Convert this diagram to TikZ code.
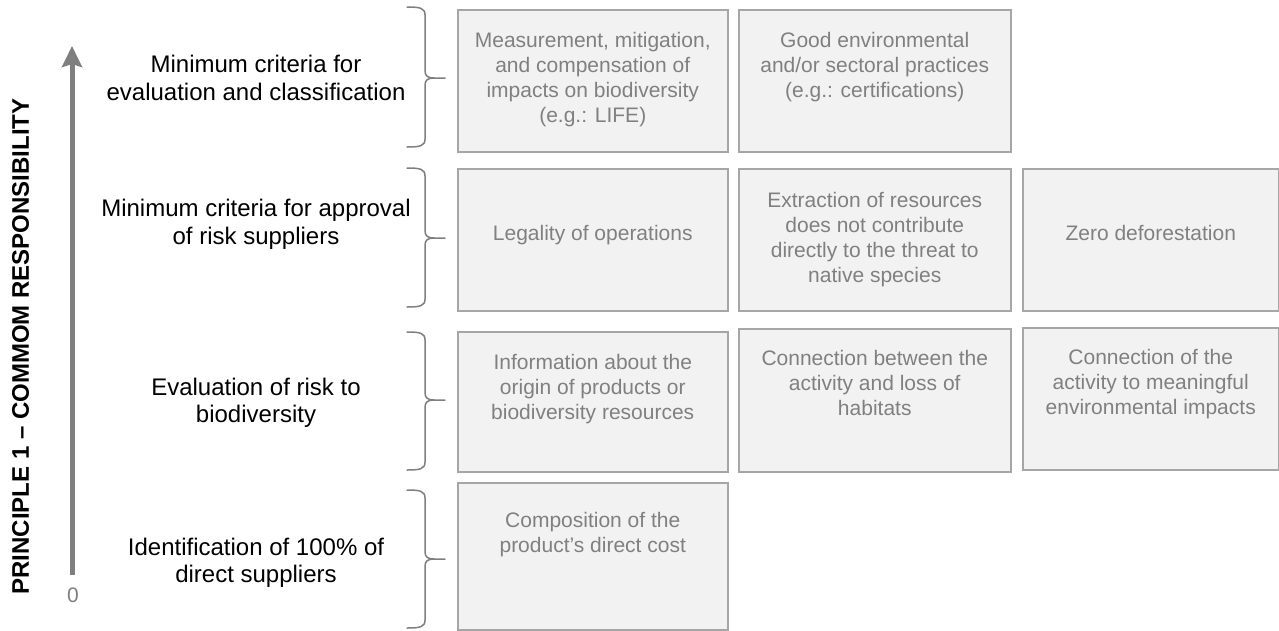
\documentclass[tikz,border=0pt]{standalone}
\usepackage{fontspec}
\setmainfont{Liberation Sans}
\usetikzlibrary{arrows.meta,calc}
\definecolor{boxfill}{HTML}{F2F2F2}
\definecolor{boxline}{HTML}{A6A6A6}
\definecolor{boxtxt}{HTML}{808080}
\definecolor{axisgray}{HTML}{7F7F7F}
\newcommand\mybrace[3]{%
  \draw[bracestyle] (407,#1) .. controls (420,#1) and (425,{#1+1}) .. (425,{#1+8})
    -- (425,{#2-7}) .. controls (425,{#2-2}) and (428,#2) .. (434,#2) -- (445,#2);
  \draw[bracestyle] (434,#2) .. controls (428,#2) and (425,{#2+2}) .. (425,{#2+7})
    -- (425,{#3-8}) .. controls (425,{#3-1}) and (420,#3) .. (407,#3);
}
\begin{document}
\begin{tikzpicture}[x=1pt,y=-1pt,
  cbox/.style={draw=boxline, fill=boxfill, line width=1.5pt, anchor=north west, inner sep=0pt},
  ctext/.style={anchor=north, inner sep=0pt, align=center, text=boxtxt, font=\fontsize{21}{25}\selectfont},
  ltext/.style={anchor=north, inner sep=0pt, align=center, text=black, font=\fontsize{24}{27.5}\selectfont},
  bracestyle/.style={draw=axisgray, line width=1.5pt, line cap=round},
  axisarrow/.style={draw=axisgray, line width=5pt, -{Stealth[length=21pt,width=20pt,inset=3pt]}}
]
\useasboundingbox (0,0) rectangle (1279,630);

% title
\node[rotate=90, font=\fontsize{24}{28}\selectfont\bfseries, inner sep=0pt] (title) at (20.5,346.5) {PRINCIPLE 1 – COMMOM RESPONSIBILITY};

% axis
\coordinate (a0) at (72,575);
\coordinate (a1) at (72,46);
\draw[axisarrow] (a0) -- (a1);
\node[text=axisgray, font=\fontsize{21}{25}\selectfont, inner sep=0pt] (zero) at (73,595) {0};

% left labels
\node[ltext] (l1) at (256,53.4) {\strut Minimum criteria for\\evaluation and classification};
\node[ltext] (l2) at (256,197.4) {\strut Minimum criteria for approval\\of risk suppliers};
\node[ltext] (l3) at (256,375.7) {\strut Evaluation of risk to\\biodiversity};
\node[ltext] (l4) at (256,535.7) {\strut Identification of 100\% of\\direct suppliers};

% braces
\mybrace{7}{78}{147}
\mybrace{168}{238}{307}
\mybrace{332}{400}{470}
\mybrace{490}{559}{628}

% boxes
\node[cbox, minimum width=270pt, minimum height=142pt] (b11) at (457,9) {};
\node[cbox, minimum width=272pt, minimum height=142pt] (b12) at (738,9) {};
\node[cbox, minimum width=270pt, minimum height=142pt] (b21) at (457,168) {};
\node[cbox, minimum width=272pt, minimum height=142pt] (b22) at (738,168) {};
\node[cbox, minimum width=256pt, minimum height=142pt] (b23) at (1022,168) {};
\node[cbox, minimum width=270pt, minimum height=140pt] (b31) at (457,331) {};
\node[cbox, minimum width=272pt, minimum height=143pt] (b32) at (738,328) {};
\node[cbox, minimum width=256pt, minimum height=142pt] (b33) at (1022,327) {};
\node[cbox, minimum width=270pt, minimum height=147pt] (b41) at (457,482) {};

% box texts
\node[ctext] (t11) at ($(b11.north)+(0,20.5)$) {\strut Measurement, mitigation,\\and compensation of\\impacts on biodiversity\\(e.g.: LIFE)};
\node[ctext] (t12) at ($(b12.north)+(0,20.5)$) {\strut Good environmental\\and/or sectoral practices\\(e.g.: certifications)};
\node[ctext] (t21) at ($(b21.north)+(0,54.5)$) {\strut Legality of operations};
\node[ctext] (t22) at ($(b22.north)+(0,21.5)$) {\strut Extraction of resources\\does not contribute\\directly to the threat to\\native species};
\node[ctext] (t23) at ($(b23.north)+(0,54.5)$) {\strut Zero deforestation};
\node[ctext] (t31) at ($(b31.north)+(0,20.5)$) {\strut Information about the\\origin of products or\\biodiversity resources};
\node[ctext] (t32) at ($(b32.north)+(0,19.5)$) {\strut Connection between the\\activity and loss of\\habitats};
\node[ctext] (t33) at ($(b33.north)+(0,19.5)$) {\strut Connection of the\\activity to meaningful\\environmental impacts};
\node[ctext] (t41) at ($(b41.north)+(0,27.5)$) {\strut Composition of the\\product’s direct cost};
\end{tikzpicture}
\end{document}
